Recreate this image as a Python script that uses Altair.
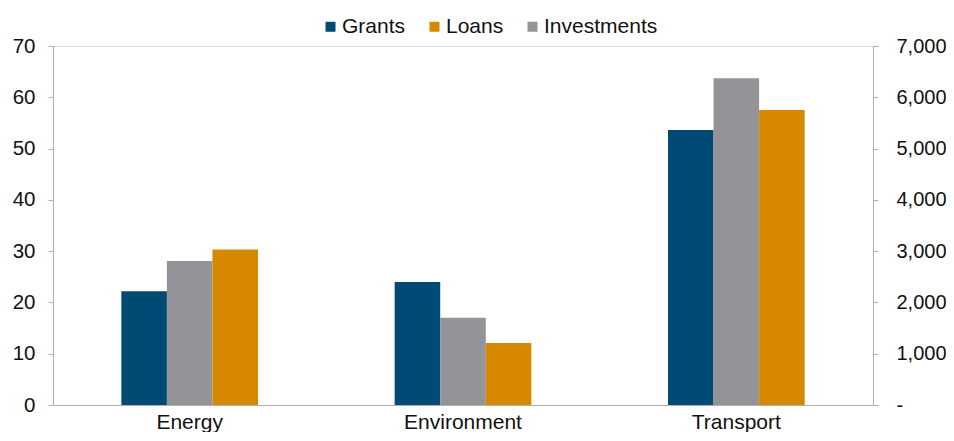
import altair as alt
import pandas as pd

categories = ["Energy", "Environment", "Transport"]
grants = [22.2, 24.0, 53.6]
investments = [28.1, 17.0, 63.7]
loans = [3030, 1210, 5750]          # right axis units
legend_order = ["Grants", "Loans", "Investments"]
bar_order = ["Grants", "Investments", "Loans"]
colors = ["#004a74", "#d68800", "#939398"]
left_ticks = [0, 10, 20, 30, 40, 50, 60, 70]
right_ticks = [0, 1000, 2000, 3000, 4000, 5000, 6000, 7000]

rows = []
for c, g, i, l in zip(categories, grants, investments, loans):
    rows.append({"category": c, "series": "Grants", "value": g})
    rows.append({"category": c, "series": "Investments", "value": i})
    rows.append({"category": c, "series": "Loans", "value": l})
df = pd.DataFrame(rows)

FONT = "Liberation Sans"
AXIS_GRAY = "#b0b0b0"
TEXT = "#111111"

x_enc = alt.X(
    "category:N", sort=categories,
    scale=alt.Scale(paddingInner=0.5, paddingOuter=0.25),
    axis=alt.Axis(title=None, labelAngle=0, ticks=False, labelFontSize=21,
                  labelPadding=6, domainColor=AXIS_GRAY, labelColor=TEXT,
                  labelFont=FONT),
)
xoff_enc = alt.XOffset(
    "series:N",
    scale=alt.Scale(domain=bar_order, paddingInner=0, paddingOuter=0),
)
color_enc = alt.Color(
    "series:N",
    scale=alt.Scale(domain=legend_order, range=colors),
    legend=alt.Legend(
        title=None, orient="none", direction="horizontal",
        legendX=267, legendY=-30,
        symbolType="square", symbolSize=100, symbolStrokeWidth=0,
        labelFontSize=21, labelFont=FONT, labelColor=TEXT,
        labelOffset=1, columnPadding=18,
    ),
)

base = alt.Chart(df)

left = base.transform_filter(
    alt.FieldOneOfPredicate(field="series", oneOf=["Grants", "Investments"])
).mark_bar().encode(
    x=x_enc,
    xOffset=xoff_enc,
    y=alt.Y("value:Q",
            scale=alt.Scale(domain=[0, 70], nice=False),
            axis=alt.Axis(title=None, values=left_ticks, grid=False,
                          tickSize=5, labelPadding=13, labelFontSize=20.5,
                          labelFont=FONT, labelColor=TEXT,
                          domainColor=AXIS_GRAY, tickColor=AXIS_GRAY)),
    color=color_enc,
)

right = base.transform_filter(
    alt.FieldEqualPredicate(field="series", equal="Loans")
).mark_bar().encode(
    x=x_enc,
    xOffset=xoff_enc,
    y=alt.Y("value:Q",
            scale=alt.Scale(domain=[0, 7000], nice=False),
            axis=alt.Axis(title=None, orient="right", values=right_ticks,
                          grid=False, tickSize=5, labelPadding=18,
                          labelFontSize=20, labelFont=FONT, labelColor=TEXT,
                          domainColor=AXIS_GRAY, tickColor=AXIS_GRAY,
                          labelExpr="datum.value == 0 ? '-' : format(datum.value, ',')")),
    color=color_enc,
)

chart = alt.layer(left, right).resolve_scale(y="independent").properties(
    width=820, height=359,
    autosize=alt.AutoSizeParams(type="none"),
    padding={"left": 45, "top": 38, "right": 73, "bottom": 27},
).configure_view(stroke=None).configure(background="white")

chart.save("out.html", embed_options={"renderer": "svg", "actions": False})
